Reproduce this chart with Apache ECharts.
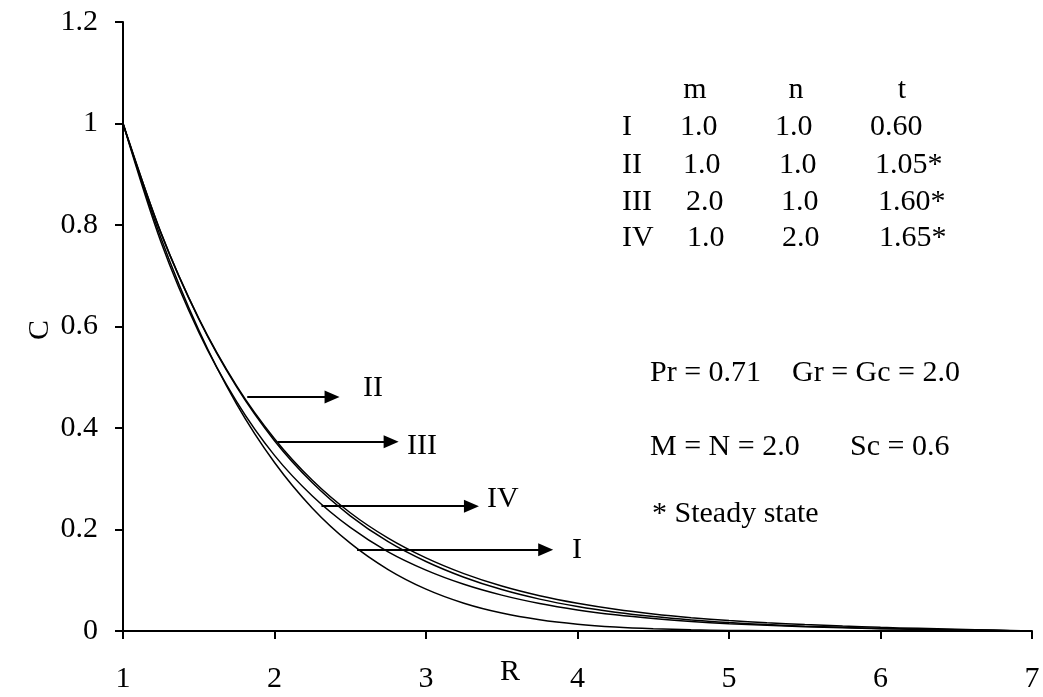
<!DOCTYPE html>
<html>
<head>
<meta charset="utf-8">
<script src="https://cdn.jsdelivr.net/npm/echarts@6/dist/echarts.min.js"></script>
<style>
html,body{margin:0;padding:0;background:#fff;}
#chart{width:1043px;height:697px;}
</style>
</head>
<body>
<div id="chart"></div>
<script>
// R grid
var R = [1, 1.25, 1.5, 1.75, 2, 2.25, 2.5, 2.75, 3, 3.25, 3.5, 3.75, 4, 4.25, 4.5, 4.75, 5, 5.25, 5.5, 5.75, 6, 6.25, 6.5, 6.75, 7];
// Concentration profiles C(R)
var curveI   = [1, 0.775, 0.593, 0.447, 0.332, 0.242, 0.173, 0.121, 0.0824, 0.0547, 0.0353, 0.0221, 0.0134, 0.0078, 0.0044, 0.0024, 0.0012, 0.0006, 0.0003, 0.0001, 0, 0, 0, 0, 0];
var curveII  = [1, 0.785, 0.616, 0.483, 0.379, 0.297, 0.233, 0.183, 0.144, 0.113, 0.0885, 0.0694, 0.0545, 0.0427, 0.0335, 0.0263, 0.0206, 0.0162, 0.0127, 0.0098, 0.0072, 0.0052, 0.0035, 0.0018, 0];
var curveIII = [1, 0.785, 0.615, 0.481, 0.375, 0.292, 0.227, 0.176, 0.137, 0.106, 0.0816, 0.0628, 0.0483, 0.0371, 0.0284, 0.0217, 0.0166, 0.0126, 0.0096, 0.0072, 0.0050, 0.0036, 0.0024, 0.0012, 0];
var curveIV  = [1, 0.767, 0.589, 0.452, 0.346, 0.266, 0.204, 0.156, 0.120, 0.0921, 0.0707, 0.0542, 0.0416, 0.0319, 0.0245, 0.0188, 0.0144, 0.0111, 0.0085, 0.0064, 0.0045, 0.0032, 0.0021, 0.0010, 0];

// Arrow annotations
var arrowNames  = ['II', 'III', 'IV', 'I'];
var arrowStartR = [1.82, 2.02, 2.31, 2.545];
var arrowEndR   = [2.38, 2.77, 3.30, 3.79];
var arrowC      = [0.461, 0.373, 0.246, 0.160];
var labelR      = [2.584, 2.875, 3.403, 3.964];
var labelC      = [0.478, 0.3645, 0.260, 0.160];

// Axis ticks
var xTicks = [1, 2, 3, 4, 5, 6, 7];
var yTicks = [0, 0.2, 0.4, 0.6, 0.8, 1, 1.2];

// Parameter table text
var tableHeader = ['m', 'n', 't'];
var tableRows = [
  ['I',   '1.0', '1.0', '0.60'],
  ['II',  '1.0', '1.0', '1.05*'],
  ['III', '2.0', '1.0', '1.60*'],
  ['IV',  '1.0', '2.0', '1.65*']
];
var paramPieces = [['Pr = 0.71', 'Gr = Gc = 2.0'], ['M = N = 2.0', 'Sc = 0.6'], ['* Steady state']];

var FONT = '"Liberation Serif", "Times New Roman", serif';
var FS = 30;

function pair(xs, ys) { return xs.map(function (x, i) { return [x, ys[i]]; }); }

var lineStyle = { color: '#000', width: 1.5 };
function curve(name, ys) {
  return {
    name: name, type: 'line', data: pair(R, ys), smooth: 0.3,
    showSymbol: false, symbol: 'none', lineStyle: lineStyle, silent: true, z: 3
  };
}

var arrowSeries = {
  type: 'line', data: [], silent: true,
  markLine: {
    silent: true, animation: false,
    symbol: ['none', 'triangle'], symbolSize: [13, 15],
    lineStyle: { color: '#000', width: 2, type: 'solid' },
    label: { show: false },
    data: arrowNames.map(function (n, i) {
      return [{ coord: [arrowStartR[i], arrowC[i]] }, { coord: [arrowEndR[i], arrowC[i]] }];
    })
  }
};

var labelSeries = {
  type: 'scatter', symbolSize: 0, silent: true,
  itemStyle: { opacity: 1, color: '#000' },
  data: arrowNames.map(function (n, i) { return [labelR[i], labelC[i], n]; }),
  label: {
    show: true, position: 'right', distance: 0, color: '#000', opacity: 1,
    fontFamily: FONT, fontSize: FS,
    formatter: function (p) { return p.data[2]; }
  }
};

var graphics = [];
function txt(str, x, y, align) {
  graphics.push({
    type: 'text', x: x, y: y, silent: true,
    style: { text: str, fill: '#000', font: FS + 'px ' + FONT, textAlign: align || 'left', textVerticalAlign: 'middle' }
  });
}
var hdrX = [695, 796, 902];
tableHeader.forEach(function (t, i) { txt(t, hdrX[i], 90, 'center'); });
var rowY = [127, 165, 202, 238];
var colX = [[622, 680, 775, 870], [622, 683, 779, 875], [622, 686, 781, 878], [622, 687, 782, 879]];
tableRows.forEach(function (row, r) {
  row.forEach(function (cell, c) { txt(cell, colX[r][c], rowY[r], 'left'); });
});
var paramY = [373, 447, 514];
var paramX = [[650, 792], [650, 850], [652]];
paramPieces.forEach(function (pcs, i) {
  pcs.forEach(function (s, j) { txt(s, paramX[i][j], paramY[i], 'left'); });
});
// axis titles
txt('R', 510, 672, 'center');
graphics.push({
  type: 'text', x: 40, y: 330, rotation: Math.PI / 2, silent: true,
  style: { text: 'C', fill: '#000', font: FS + 'px ' + FONT, textAlign: 'center', textVerticalAlign: 'middle' }
});

var chart = echarts.init(document.getElementById('chart'), null, { renderer: 'canvas' });
chart.setOption({
  animation: false,
  backgroundColor: '#fff',
  grid: { left: 123, right: 11, top: 22, bottom: 66, containLabel: false },
  xAxis: {
    type: 'value', min: xTicks[0], max: xTicks[xTicks.length - 1], interval: 1,
    axisLine: { show: true, lineStyle: { color: '#000', width: 2 } },
    axisTick: { show: true, inside: false, length: 8, lineStyle: { color: '#000', width: 2 } },
    axisLabel: { color: '#000', fontFamily: FONT, fontSize: FS, margin: 33 },
    splitLine: { show: false }
  },
  yAxis: {
    type: 'value', min: yTicks[0], max: yTicks[yTicks.length - 1], interval: 0.2,
    axisLine: { show: true, lineStyle: { color: '#000', width: 2 } },
    axisTick: { show: true, inside: false, length: 8, lineStyle: { color: '#000', width: 2 } },
    axisLabel: { color: '#000', fontFamily: FONT, fontSize: FS, margin: 25,
      formatter: function (v) { return String(Math.round(v * 10) / 10); } },
    splitLine: { show: false }
  },
  series: [curve('I', curveI), curve('II', curveII), curve('III', curveIII), curve('IV', curveIV), arrowSeries, labelSeries],
  graphic: graphics
});
</script>
</body>
</html>
